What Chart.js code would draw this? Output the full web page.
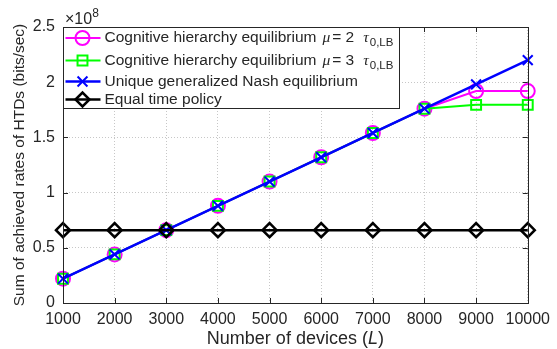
<!DOCTYPE html>
<html>
<head>
<meta charset="utf-8">
<script src="https://cdn.jsdelivr.net/npm/chart.js@4.4.0/dist/chart.umd.min.js"></script>
<style>
  html, body { margin: 0; padding: 0; background: #fff; }
  #wrap { width: 557px; height: 349px; }
</style>
</head>
<body>
<div id="wrap"><canvas id="rateChart" width="557" height="349"></canvas></div>
<script>
// Number of devices L
const devices = [1000, 2000, 3000, 4000, 5000, 6000, 7000, 8000, 9000, 10000];

// Sum of achieved rates of HTDs (bits/sec)
const chMu2 = [0.22e8, 0.44e8, 0.66e8, 0.88e8, 1.10e8, 1.32e8, 1.54e8, 1.76e8, 1.92e8, 1.92e8];
const chMu3 = [0.22e8, 0.44e8, 0.66e8, 0.88e8, 1.10e8, 1.32e8, 1.54e8, 1.76e8, 1.795e8, 1.795e8];
const nashRates = [0.22e8, 0.44e8, 0.66e8, 0.88e8, 1.10e8, 1.32e8, 1.54e8, 1.76e8, 1.98e8, 2.20e8];
const equalTime = [0.66e8, 0.66e8, 0.66e8, 0.66e8, 0.66e8, 0.66e8, 0.66e8, 0.66e8, 0.66e8, 0.66e8];

const yTicks = [0, 0.5e8, 1e8, 1.5e8, 2e8, 2.5e8];
const yTickLabels = ['0', '0.5', '1', '1.5', '2', '2.5'];

const seriesNames = [
    'Cognitive hierarchy equilibrium',
    'Cognitive hierarchy equilibrium',
    'Unique generalized Nash equilibrium',
    'Equal time policy'
];
const muValues = [2, 3, null, null];

const SANS = "'Liberation Sans', Arial, Helvetica, sans-serif";
const SERIF = "'Liberation Serif', 'Times New Roman', serif";
const TEXT_COLOR = '#262626';

function toPoints(values) {
    return devices.map((d, i) => ({ x: d, y: values[i] }));
}

// Box, inner tick marks, axis titles, exponent and legend
const axesDecor = {
    id: 'axesDecor',
    afterDatasetsDraw(chart) {
        const ctx = chart.ctx;
        const a = chart.chartArea;
        const xs = chart.scales.x, ys = chart.scales.y;
        ctx.save();
        ctx.strokeStyle = TEXT_COLOR;
        ctx.lineWidth = 1;
        ctx.beginPath();
        // inner ticks on all four sides
        devices.forEach(d => {
            const px = Math.round(xs.getPixelForValue(d)) + 0.5;
            ctx.moveTo(px, a.bottom); ctx.lineTo(px, a.bottom - 5);
            ctx.moveTo(px, a.top); ctx.lineTo(px, a.top + 5);
        });
        yTicks.forEach(v => {
            const py = Math.round(ys.getPixelForValue(v)) + 0.5;
            ctx.moveTo(a.left, py); ctx.lineTo(a.left + 5, py);
            ctx.moveTo(a.right, py); ctx.lineTo(a.right - 5, py);
        });
        ctx.stroke();
        ctx.strokeRect(Math.round(a.left) + 0.5, Math.round(a.top) + 0.5,
            Math.round(a.right - a.left), Math.round(a.bottom - a.top));
        ctx.restore();
    },
    afterDraw(chart) {
        const ctx = chart.ctx;
        const a = chart.chartArea;
        ctx.save();
        ctx.fillStyle = TEXT_COLOR;

        // y axis title
        ctx.save();
        ctx.translate(23.5, (a.top + a.bottom) / 2);
        ctx.rotate(-Math.PI / 2);
        ctx.font = '15.5px ' + SANS;
        ctx.textAlign = 'center';
        ctx.textBaseline = 'alphabetic';
        ctx.fillText('Sum of achieved rates of HTDs (bits/sec)', 0, 0);
        ctx.restore();

        // x axis title with italic L
        ctx.textBaseline = 'alphabetic';
        ctx.textAlign = 'left';
        const parts = [
            { t: 'Number of devices (', f: '18px ' + SANS },
            { t: 'L', f: 'italic 18px ' + SANS },
            { t: ')', f: '18px ' + SANS }
        ];
        let total = 0;
        parts.forEach(p => { ctx.font = p.f; p.w = ctx.measureText(p.t).width; total += p.w; });
        let x = (a.left + a.right) / 2 - total / 2;
        parts.forEach(p => { ctx.font = p.f; ctx.fillText(p.t, x, 344); x += p.w; });

        // exponent label
        ctx.font = '16px ' + SANS;
        ctx.fillText('\u00d710', a.left + 2, 24);
        const w10 = ctx.measureText('\u00d710').width;
        ctx.font = '12px ' + SANS;
        ctx.fillText('8', a.left + 2 + w10, 17);

        drawLegend(chart);
        ctx.restore();
    }
};

function drawLegend(chart) {
    const ctx = chart.ctx;
    const a = chart.chartArea;
    const x0 = Math.round(a.left) + 0.5, y0 = Math.round(a.top) + 0.5;
    const w = 336, h = 81;
    const rowY = [10.5, 33, 54, 72];
    ctx.save();
    ctx.fillStyle = '#fff';
    ctx.fillRect(x0, y0, w, h);
    ctx.strokeStyle = TEXT_COLOR;
    ctx.lineWidth = 1;
    ctx.strokeRect(x0, y0, w, h);

    seriesNames.forEach((name, i) => {
        const ds = chart.data.datasets[i];
        const y = y0 + rowY[i];
        ctx.strokeStyle = ds.borderColor;
        ctx.lineWidth = ds.borderWidth;
        ctx.beginPath();
        ctx.moveTo(x0 + 2, y);
        ctx.lineTo(x0 + 37, y);
        ctx.stroke();
        ctx.fillStyle = 'rgba(0,0,0,0)';
        ctx.lineWidth = ds.pointBorderWidth;
        Chart.helpers.drawPoint(ctx, {
            pointStyle: ds.pointStyle,
            radius: ds.pointRadius,
            borderWidth: ds.pointBorderWidth,
            rotation: 0
        }, x0 + 19, y);

        ctx.fillStyle = TEXT_COLOR;
        ctx.textBaseline = 'middle';
        ctx.textAlign = 'left';
        ctx.font = '15.5px ' + SANS;
        let x = x0 + 41;
        ctx.fillText(name, x, y);
        if (muValues[i] !== null) {
            x += ctx.measureText(name).width + 6;
            ctx.font = 'italic 15.5px ' + SERIF;
            ctx.fillText('\u03bc', x, y);
            x += ctx.measureText('\u03bc').width + 2;
            ctx.font = '15.5px ' + SANS;
            const eq = '= ' + muValues[i];
            ctx.fillText(eq, x, y);
            x += ctx.measureText(eq).width + 9;
            ctx.font = 'italic 15.5px ' + SERIF;
            ctx.fillText('\u03c4', x, y);
            x += ctx.measureText('\u03c4').width + 1;
            ctx.font = '11.5px ' + SANS;
            ctx.fillText('0,LB', x, y + 5);
        }
    });
    ctx.restore();
}

const ctx = document.getElementById('rateChart').getContext('2d');

new Chart(ctx, {
    type: 'line',
    data: {
        datasets: [{
            label: seriesNames[0] + ' \u03bc = 2 \u03c4 0,LB',
            data: toPoints(chMu2),
            borderColor: '#ff00ff',
            borderWidth: 2,
            pointStyle: 'circle',
            pointRadius: 7,
            pointBorderWidth: 2,
            pointBackgroundColor: 'rgba(0,0,0,0)',
            order: 4
        }, {
            label: seriesNames[1] + ' \u03bc = 3 \u03c4 0,LB',
            data: toPoints(chMu3),
            borderColor: '#00ff00',
            borderWidth: 2,
            pointStyle: 'rect',
            pointRadius: 7,
            pointBorderWidth: 2,
            pointBackgroundColor: 'rgba(0,0,0,0)',
            order: 3
        }, {
            label: seriesNames[2],
            data: toPoints(nashRates),
            borderColor: '#0000ff',
            borderWidth: 2.5,
            pointStyle: 'crossRot',
            pointRadius: 7,
            pointBorderWidth: 2,
            order: 2
        }, {
            label: seriesNames[3],
            data: toPoints(equalTime),
            borderColor: '#000000',
            borderWidth: 2.5,
            pointStyle: 'rectRot',
            pointRadius: 7,
            pointBorderWidth: 2.5,
            pointBackgroundColor: 'rgba(0,0,0,0)',
            order: 1
        }]
    },
    options: {
        responsive: false,
        animation: false,
        devicePixelRatio: 1,
        clip: false,
        layout: { padding: { top: 27, right: 25, left: 0, bottom: 0 } },
        elements: { line: { tension: 0, fill: false } },
        plugins: {
            legend: { display: false },
            tooltip: { enabled: false }
        },
        scales: {
            x: {
                type: 'linear',
                min: 1000,
                max: 10000,
                afterFit: s => { s.height = 46; },
                afterBuildTicks: s => { s.ticks = devices.map(v => ({ value: v })); },
                ticks: {
                    color: TEXT_COLOR,
                    font: { family: SANS, size: 16 },
                    padding: 7,
                    maxRotation: 0,
                    callback: v => String(v)
                },
                grid: { color: 'rgba(0,0,0,0.22)', drawTicks: false },
                border: { display: false, dash: [1, 2] }
            },
            y: {
                min: 0,
                max: 2.5e8,
                afterFit: s => { s.width = 63; },
                afterBuildTicks: s => { s.ticks = yTicks.map(v => ({ value: v })); },
                ticks: {
                    color: TEXT_COLOR,
                    font: { family: SANS, size: 16 },
                    padding: 8,
                    callback: v => yTickLabels[yTicks.indexOf(v)]
                },
                grid: { color: 'rgba(0,0,0,0.22)', drawTicks: false },
                border: { display: false, dash: [1, 2] }
            }
        }
    },
    plugins: [axesDecor]
});
</script>
</body>
</html>
